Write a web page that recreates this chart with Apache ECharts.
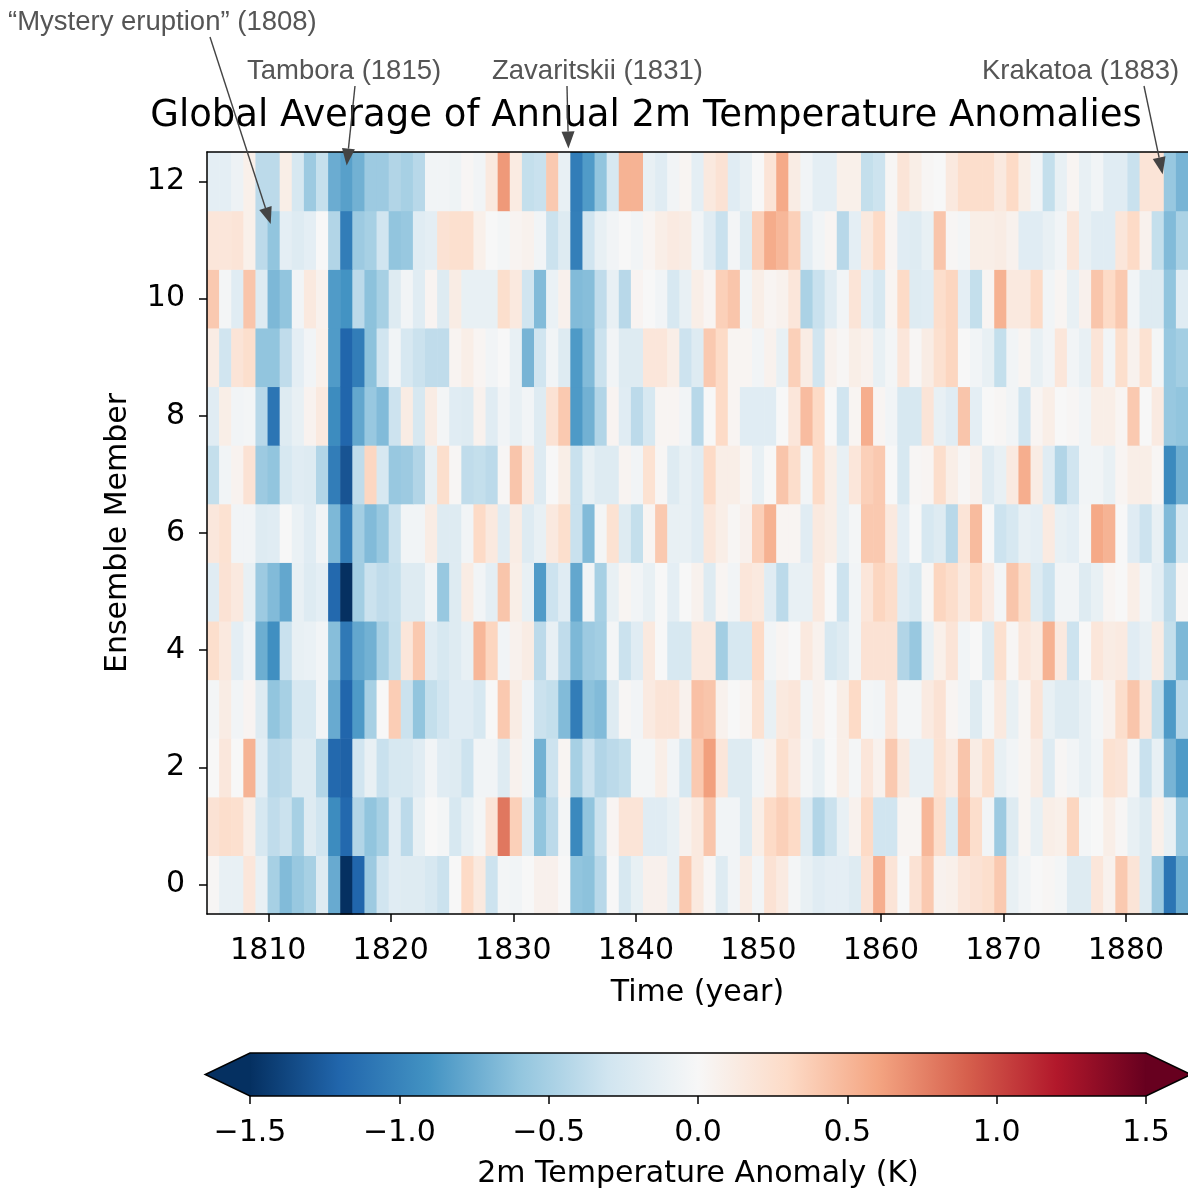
<!DOCTYPE html>
<html>
<head>
<meta charset="utf-8">
<script src="https://cdn.jsdelivr.net/npm/echarts@6/dist/echarts.min.js"></script>
<style>
  html, body { margin: 0; padding: 0; background: #fff; }
  #chart { width: 1188px; height: 1190px; }
</style>
</head>
<body>
<div id="chart"></div>
<script>
// one value per column (81 annual columns from 1805), one array per ensemble member
const member0 = [0.02, -0.12, -0.12, 0.18, -0.12, -0.5, -0.66, -0.57, -0.5, -0.2, -0.76, -1.55, -1.2, -0.55, -0.3, -0.18, -0.2, -0.2, -0.25, -0.33,
  0, 0.3, 0.15, -0.32, -0.03, -0.05, 0, 0.07, 0.07, 0, -0.6, -0.62, -0.42, 0, -0.25, -0.12, 0.07, 0.07, -0.12, 0.4,
  0.15, 0.02, -0.2, -0.05, 0.12, -0.05, 0.22, 0.14, -0.03, -0.12, -0.18, -0.15, -0.15, -0.2, 0.22, 0.55, 0.2, 0, 0.22, 0.4,
  0.06,
  0.08, 0.18, 0.22, 0.26, 0.4, -0.12, -0.05, 0, 0.02, -0.03, -0.2, -0.2, 0.18, 0.06, 0.4, 0.2, -0.2, -0.55, -1.1, -0.75];
const member1 = [0.22, 0.27, 0.25, 0.1, -0.25, -0.38, -0.33, -0.5, -0.2, -0.3, -0.95, -1.18, -0.45, -0.6, -0.5, -0.18, -0.4, -0.12, 0, -0.03,
  -0.25, -0.12, -0.03, 0.2, 0.8, 0.36, -0.18, -0.6, -0.4, -0.03, -0.97, -0.6, -0.33, 0.03, 0.2, 0.2, -0.18, -0.18, -0.12, 0.06,
  0.15, 0.42, -0.05, -0.05, -0.2, 0.1, 0.3, 0.36, 0.3, -0.2, -0.45, -0.33, -0.12, 0.06, 0.3, -0.3, -0.3, 0.03, 0.03, 0.5,
  0.27,
  -0.22, 0.45, 0.27, -0.05, -0.55, -0.2, 0.03, -0.12, 0.1, 0.08, 0.33, -0.03, 0, 0.1, 0.02, -0.12, -0.2, 0.08, -0.12, -0.57];
const member2 = [0, 0.17, 0, 0.52, -0.15, -0.42, -0.4, -0.2, -0.2, -0.45, -1.18, -1.22, -0.3, -0.12, -0.34, -0.25, -0.25, -0.18, -0.05, -0.18,
  -0.2, -0.32, -0.05, -0.05, -0.2, 0.06, -0.05, -0.72, -0.32, 0.03, -0.5, -0.32, -0.45, -0.4, -0.36, -0.03, -0.03, 0.1, -0.05, -0.25,
  0.4, 0.62, 0.18, -0.2, -0.2, -0.05, 0.06, 0.26, 0.14, -0.03, -0.12, 0, 0.1, -0.03, 0.18, 0.06, 0.4, 0.15, -0.12, -0.12,
  0.23,
  0.14, 0.42, 0.12, 0.26, -0.12, -0.05, 0.03, 0.12, -0.2, 0.02, -0.05, -0.12, -0.05, 0.23, 0.2, -0.03, -0.34, -0.12, -0.7, -0.86];
const member3 = [-0.03, 0.12, -0.05, 0.04, -0.2, -0.6, -0.5, -0.25, -0.25, -0.05, -0.76, -1.2, -0.86, -0.5, 0, 0.38, -0.33, -0.6, -0.36, -0.3,
  -0.18, -0.18, -0.25, 0, 0.4, 0.12, -0.05, -0.33, -0.36, -0.66, -1.05, -0.62, -0.66, -0.2, 0.02, -0.05, 0.14, 0.2, 0.2, 0.06,
  0.45, 0.42, 0.06, 0, 0.03, 0.23, -0.12, 0.15, 0.18, -0.05, 0.06, 0, 0.1, 0.3, -0.03, -0.05, 0.18, -0.03, -0.03, 0.14,
  0.22,
  0.03, -0.05, -0.2, -0.03, 0.15, -0.12, 0.03, 0.2, -0.12, -0.2, -0.2, -0.12, -0.03, 0.06, 0.27, 0.42, 0.18, -0.36, -0.86, -0.42];
const member4 = [0.26, 0.15, -0.15, -0.05, -0.74, -0.93, -0.34, -0.12, -0.1, -0.05, -0.64, -1.07, -0.78, -0.72, -0.5, -0.36, 0.18, 0.4, -0.18, -0.25,
  -0.2, -0.12, 0.5, 0.33, -0.05, 0.06, 0.12, -0.4, -0.12, -0.38, -0.68, -0.55, -0.52, -0.03, -0.33, -0.18, 0.15, 0, -0.25, -0.25,
  0.15, 0.15, -0.52, -0.25, -0.25, 0.3, -0.05, 0.03, 0, 0.15, 0.06, -0.25, -0.2, -0.05, 0.22, 0.22, 0.22, -0.45, -0.57, -0.12,
  0.08,
  0.2, -0.05, 0, -0.2, 0.25, 0.02, 0.18, 0.13, 0.53, 0.15, -0.32, 0, 0.18, 0.12, 0.14, -0.18, -0.12, 0.12, -0.36, -0.68];
const member5 = [-0.18, 0.22, 0.15, -0.12, -0.55, -0.66, -0.78, -0.12, -0.2, -0.15, -1.18, -1.55, -0.52, -0.33, -0.38, -0.35, -0.2, -0.2, -0.05, -0.57,
  -0.2, 0.12, -0.05, -0.15, 0.42, 0.1, -0.12, -0.85, -0.32, -0.18, -0.78, -0.05, -0.5, -0.12, 0.03, -0.05, -0.12, 0, -0.15, 0,
  0.06, -0.2, 0.03, -0.05, 0.18, 0.15, -0.18, -0.4, -0.12, -0.12, 0.15, 0, -0.32, -0.05, 0.18, 0.33, 0.27, -0.18, -0.25, 0.02,
  0.33,
  0.27, 0.15, 0.3, 0.14, -0.03, 0.42, 0.27, -0.2, -0.32, -0.05, -0.05, -0.2, -0.12, 0.03, 0, 0.1, -0.05, -0.15, -0.4, 0.02];
const member6 = [0.17, 0.23, -0.05, -0.05, -0.2, -0.18, 0, -0.1, -0.18, -0.05, -0.68, -1.05, -0.52, -0.66, -0.57, -0.33, -0.05, -0.05, 0.12, -0.2,
  -0.2, -0.05, 0.3, 0.15, -0.18, 0.12, -0.2, -0.12, 0.15, 0.26, -0.34, -0.66, -0.03, 0.23, -0.2, -0.36, 0.03, 0.4, -0.12, -0.12,
  -0.18, 0.18, 0.1, 0.02, 0.07, 0.36, 0.53, 0.03, 0.03, -0.18, 0.15, 0.1, -0.12, -0.03, 0.4, 0.4, 0.15, -0.15, 0, -0.25,
  -0.2,
  -0.42, 0.2, 0.48, 0, -0.32, -0.25, -0.12, -0.15, 0.14, -0.12, -0.15, -0.03, 0.58, 0.52, 0, -0.18, -0.32, -0.12, -0.66, -0.25];
const member7 = [-0.36, -0.05, 0.05, 0.22, -0.55, -0.6, -0.25, -0.18, -0.2, -0.45, -1.05, -1.3, -0.38, 0.32, -0.25, -0.57, -0.55, -0.45, -0.12, 0.26,
  0.02, -0.38, -0.36, -0.4, 0.02, 0.42, 0.14, -0.2, 0, 0.1, -0.34, -0.12, -0.2, -0.2, 0.04, -0.05, 0.23, 0.02, -0.2, -0.12,
  -0.18, 0.3, 0.1, 0.1, 0.03, -0.12, 0, 0.42, 0.27, -0.05, 0.3, 0.1, -0.12, 0.18, 0.36, 0.4, 0, -0.25, 0.02, 0.03,
  0.27,
  0.1, 0.02, 0.06, -0.2, -0.12, 0.14, 0.55, 0.12, -0.18, -0.45, -0.3, -0.05, -0.05, -0.12, 0.03, 0.1, 0.1, 0.02, -0.96, -0.73];
const member8 = [-0.18, 0.1, -0.05, -0.03, -0.42, -1.1, -0.2, -0.12, 0.05, 0.15, -0.95, -1.2, -0.78, -0.57, -0.66, -0.32, 0.12, -0.25, 0.12, -0.03,
  -0.18, -0.2, 0.06, -0.18, -0.05, -0.12, -0.05, -0.2, 0.22, 0.4, -0.86, -0.72, -0.45, 0.04, -0.18, -0.4, -0.25, 0.03, 0.03, -0.05,
  -0.42, 0, 0.3, 0.03, -0.18, -0.18, -0.18, 0, 0.18, 0.47, 0.3, 0, -0.3, 0.03, 0.55, 0.03, -0.05, -0.25, -0.25, 0.2,
  -0.12,
  -0.18, 0.42, -0.15, 0, 0.02, -0.05, -0.3, 0.03, 0.1, 0, 0.02, -0.05, 0.1, 0.1, 0.03, 0.4, 0, 0.14, -0.57, -0.6];
const member9 = [0.12, -0.3, 0.2, 0.26, -0.6, -0.6, -0.38, -0.15, -0.05, 0.08, -0.85, -1.2, -1.05, -0.62, -0.3, -0.05, -0.25, -0.33, -0.38, -0.38,
  0.04, 0.1, 0.03, -0.05, 0, -0.12, -0.7, -0.3, -0.05, -0.2, -0.86, -0.66, -0.33, -0.05, -0.2, -0.2, 0.18, 0.18, 0.1, -0.32,
  -0.2, 0.4, 0.3, 0.03, 0.03, -0.05, 0.06, -0.12, 0.36, 0.12, -0.3, 0.06, 0.02, 0.1, 0.06, -0.12, -0.03, 0.18, 0.02, 0.12,
  0.25,
  0.33, 0, -0.05, -0.12, -0.36, -0.05, 0.03, -0.12, -0.05, 0.18, -0.05, -0.12, 0.2, -0.05, 0.26, 0.06, 0.23, -0.03, -0.57, -0.52];
const member10 = [0.4, -0.03, -0.18, 0.42, -0.2, -0.68, -0.6, -0.05, 0.15, 0.06, -0.85, -0.9, -0.4, -0.62, -0.5, -0.2, -0.05, -0.18, 0.04, -0.2,
  0.12, -0.12, -0.12, -0.12, 0.26, 0.15, -0.3, -0.66, -0.1, 0.07, -0.66, -0.64, -0.38, -0.12, -0.42, 0.04, 0, -0.05, -0.25, -0.12,
  0.1, 0.03, 0.36, 0.42, -0.05, 0.1, 0.03, 0.06, 0.18, -0.48, -0.34, -0.18, -0.05, 0.2, -0.15, -0.25, 0.03, 0.3, -0.2, -0.18,
  0.27,
  0.33, -0.15, -0.36, 0.03, 0.53, 0.15, 0.15, 0.3, -0.05, 0.03, -0.12, 0.07, 0.42, 0.3, 0.4, -0.05, -0.2, -0.2, -0.6, -0.18];
const member11 = [0.18, 0.18, 0.2, 0.08, -0.4, -0.6, -0.15, -0.2, -0.15, 0, -0.45, -1.05, -0.55, -0.5, -0.3, -0.6, -0.57, -0.18, -0.15, 0.22,
  0.25, 0.25, 0.08, 0, -0.03, 0.04, 0.06, -0.05, -0.33, -0.2, -1.03, -0.3, -0.12, -0.05, 0, -0.05, 0.03, 0.1, 0.14, 0.12,
  -0.05, -0.18, -0.34, -0.03, -0.2, 0.36, 0.56, 0.5, 0.36, -0.15, -0.05, 0.03, -0.42, -0.15, 0.15, 0.3, 0.03, -0.18, -0.2, -0.12,
  0.42,
  0.02, -0.03, 0.1, 0.1, 0.12, 0.06, -0.18, -0.18, -0.12, -0.05, 0.18, -0.12, -0.18, -0.18, 0.18, 0.3, 0.06, -0.36, -0.66, -0.48];
const member12 = [-0.15, -0.15, -0.08, 0.08, -0.4, -0.4, 0.1, -0.25, -0.55, -0.35, -0.75, -0.82, -0.72, -0.55, -0.55, -0.45, -0.5, -0.42, -0.05, -0.05,
  -0.07, 0.02, -0.05, 0.15, 0.65, 0.13, -0.36, -0.34, 0.4, -0.12, -1.05, -0.85, -0.6, -0.25, 0.52, 0.52, -0.12, -0.18, -0.05, 0.03,
  -0.15, 0.15, 0.22, -0.18, -0.12, 0, 0.2, 0.57, 0.12, -0.05, -0.15, -0.15, 0.08, 0.08, -0.36, -0.32, 0.02, 0.2, 0.1, 0.02,
  0,
  0.15, 0.27, 0.27, 0.27, 0.15, 0.3, 0.1, -0.05, -0.36, -0.12, 0.03, -0.12, -0.05, -0.18, -0.18, -0.34, 0.2, 0.2, -0.57, -0.7];

const members = [member0, member1, member2, member3, member4, member5, member6,
  member7, member8, member9, member10, member11, member12];

const yearTicks = [1810, 1820, 1830, 1840, 1850, 1860, 1870, 1880];
const memberTicks = [0, 2, 4, 6, 8, 10, 12];
const colorbarTicks = [-1.5, -1.0, -0.5, 0.0, 0.5, 1.0, 1.5];

// RdBu_r
const rdbuR = ['#053061', '#2166ac', '#4393c3', '#92c5de', '#d1e5f0', '#f7f7f7',
  '#fddbc7', '#f4a582', '#d6604d', '#b2182b', '#67001f'];

const eruptions = [
  { text: '\u201cMystery eruption\u201d (1808)', year: 1810.2, member: 11.27, at: [8, 20], from: [210, 37] },
  { text: 'Tambora (1815)', year: 1816.4, member: 12.27, at: [247, 69], from: [355, 86] },
  { text: 'Zavaritskii (1831)', year: 1834.5, member: 12.56, at: [492, 69], from: [567, 86] },
  { text: 'Krakatoa (1883)', year: 1883.0, member: 12.12, at: [982, 69], from: [1144, 86] }
];

const FONT = 'DejaVu Sans';

const cells = [];
members.forEach((row, m) => row.forEach((v, i) => cells.push([i, m, v])));

function renderCell(params, api) {
  const p0 = api.coord([api.value(0), api.value(1) + 0.5]);
  const p1 = api.coord([api.value(0) + 1, api.value(1) - 0.5]);
  return {
    type: 'rect',
    shape: { x: p0[0], y: p0[1], width: p1[0] - p0[0] + 0.6, height: p1[1] - p0[1] + 0.6 },
    style: { fill: api.visual('color') }
  };
}

function renderColorbar(params, api) {
  const a = api.coord([colorbarTicks[0], 1]);
  const b = api.coord([colorbarTicks[colorbarTicks.length - 1], 0]);
  const len = b[0] - a[0];
  const ext = len * 0.05;
  const midY = (a[1] + b[1]) / 2;
  const stops = rdbuR.map((c, i) => ({ offset: i / (rdbuR.length - 1), color: c }));
  return {
    type: 'group',
    children: [
      { type: 'rect', shape: { x: a[0], y: a[1], width: len, height: b[1] - a[1] },
        style: { fill: new echarts.graphic.LinearGradient(0, 0, 1, 0, stops) } },
      { type: 'polygon', shape: { points: [[a[0] + 0.5, a[1]], [a[0] - ext, midY], [a[0] + 0.5, b[1]]] },
        style: { fill: rdbuR[0] } },
      { type: 'polygon', shape: { points: [[b[0] - 0.5, a[1]], [b[0] + ext, midY], [b[0] - 0.5, b[1]]] },
        style: { fill: rdbuR[rdbuR.length - 1] } },
      { type: 'polygon',
        shape: { points: [[a[0], a[1]], [b[0], a[1]], [b[0] + ext, midY], [b[0], b[1]], [a[0], b[1]], [a[0] - ext, midY]] },
        style: { fill: 'none', stroke: '#000', lineWidth: 1.5 } }
    ]
  };
}

const tickStyle = { show: true, inside: false, length: 8, lineStyle: { color: '#000', width: 1.5 } };
const labelStyle = { color: '#000', fontFamily: FONT, fontSize: 30 };
const nameStyle = { color: '#000', fontFamily: FONT, fontSize: 30 };
const fmtMinus = v => (v < 0 ? '\u2212' : '') + Math.abs(v).toFixed(1);

const chart = echarts.init(document.getElementById('chart'), null, { renderer: 'canvas' });
chart.setOption({
  animation: false,
  backgroundColor: '#fff',
  title: {
    text: 'Global Average of Annual 2m Temperature Anomalies',
    left: 646, top: 98, textAlign: 'center', padding: 0,
    textStyle: { fontFamily: FONT, fontSize: 37, fontWeight: 'normal', color: '#000' }
  },
  grid: [
    { left: 207, top: 152, width: 984, height: 762 },
    { left: 250, top: 1053, width: 896, height: 44 }
  ],
  xAxis: [
    {
      gridIndex: 0, type: 'value', position: 'bottom', min: 1805, max: 1885.07, z: 5,
      name: 'Time (year)', nameLocation: 'middle', nameGap: 64, nameTextStyle: nameStyle,
      axisLine: { show: true, onZero: false, lineStyle: { color: '#000', width: 1.5 } },
      axisTick: Object.assign({ customValues: yearTicks }, tickStyle),
      axisLabel: Object.assign({ customValues: yearTicks, margin: 22, formatter: v => String(v) }, labelStyle),
      splitLine: { show: false }
    },
    {
      gridIndex: 0, type: 'value', position: 'top', min: 0, max: members[0].length, z: 5,
      axisLine: { show: true, onZero: false, lineStyle: { color: '#000', width: 1.5 } },
      axisTick: { show: false }, axisLabel: { show: false }, splitLine: { show: false }
    },
    {
      gridIndex: 1, type: 'value', position: 'bottom', min: -1.5, max: 1.5, interval: 0.5, z: 5,
      name: '2m Temperature Anomaly (K)', nameLocation: 'middle', nameGap: 63, nameTextStyle: nameStyle,
      axisLine: { show: false, onZero: false },
      axisTick: tickStyle,
      axisLabel: Object.assign({ margin: 22, formatter: fmtMinus }, labelStyle),
      splitLine: { show: false }
    }
  ],
  yAxis: [
    {
      gridIndex: 0, type: 'value', min: -0.5, max: 12.5, z: 5,
      name: 'Ensemble Member', nameLocation: 'middle', nameGap: 74, nameTextStyle: nameStyle,
      axisLine: { show: true, onZero: false, lineStyle: { color: '#000', width: 1.5 } },
      axisTick: Object.assign({ customValues: memberTicks }, tickStyle),
      axisLabel: Object.assign({ customValues: memberTicks, margin: 22 }, labelStyle),
      splitLine: { show: false }
    },
    { gridIndex: 1, type: 'value', min: 0, max: 1, show: false }
  ],
  visualMap: {
    type: 'continuous', show: false, seriesIndex: 0, dimension: 2,
    min: -1.5, max: 1.5, inRange: { color: rdbuR }
  },
  series: [
    {
      type: 'custom', xAxisIndex: 1, yAxisIndex: 0, z: 1,
      renderItem: renderCell, encode: { x: 0, y: 1 }, data: cells
    },
    {
      type: 'custom', xAxisIndex: 2, yAxisIndex: 1, z: 1, silent: true,
      renderItem: renderColorbar, data: [[0, 0]]
    }
  ]
});

// eruption annotations: grey labels with arrows pointing into the heatmap
const graphics = [];
eruptions.forEach(e => {
  const tip = [chart.convertToPixel({ xAxisIndex: 0 }, e.year), chart.convertToPixel({ yAxisIndex: 0 }, e.member)];
  const dx = tip[0] - e.from[0], dy = tip[1] - e.from[1];
  const d = Math.sqrt(dx * dx + dy * dy);
  const ux = dx / d, uy = dy / d;
  const headLen = 17, headHalf = 6.5;
  const base = [tip[0] - ux * headLen, tip[1] - uy * headLen];
  graphics.push({
    type: 'text', left: e.at[0], top: e.at[1] - 12, z: 20,
    style: { text: e.text, fill: '#555', font: '27.5px "Liberation Sans", Arial, sans-serif' }
  });
  graphics.push({
    type: 'line', z: 20,
    shape: { x1: e.from[0], y1: e.from[1], x2: base[0], y2: base[1] },
    style: { stroke: '#444', lineWidth: 1.4 }
  });
  graphics.push({
    type: 'polygon', z: 20,
    shape: { points: [tip, [base[0] - uy * headHalf, base[1] + ux * headHalf], [base[0] + uy * headHalf, base[1] - ux * headHalf]] },
    style: { fill: '#444' }
  });
});
chart.setOption({ graphic: graphics });
</script>
</body>
</html>
